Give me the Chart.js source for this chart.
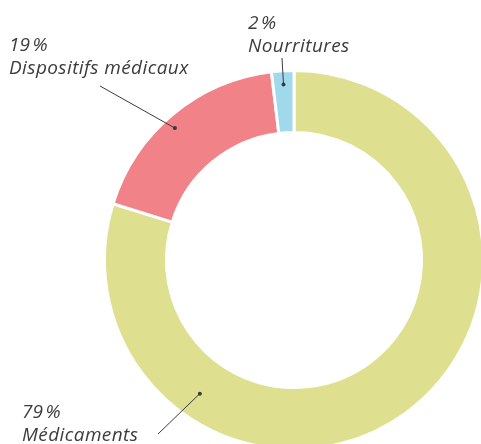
<!DOCTYPE html>
<html>
<head>
<meta charset="utf-8">
<script src="https://cdn.jsdelivr.net/npm/chart.js@4"></script>
<style>
  html, body { margin: 0; padding: 0; background: #ffffff; overflow: hidden; width: 481px; height: 444px; }
  #wrap { position: absolute; left: 0; top: 0; width: 490px; height: 460px; }
</style>
</head>
<body>
<div id="wrap"><canvas id="c" width="490" height="460"></canvas></div>
<script>
const categories = ['Médicaments', 'Dispositifs médicaux', 'Nourritures'];
const values = [79.8, 18.3, 1.9];
const percentLabels = ['79\u202f%', '19\u202f%', '2\u202f%'];

const sliceColors = ['#dee090', '#f08288', '#a0d8ec'];

// label layout: text position, leader start, leader end (fraction along arc angle / ring thickness)
const labelLayout = [
  { tx: 22, ty: 418, sx: 158, sy: 434, angFrac: 0.749, radFrac: 0.58 },
  { tx: 9,  ty: 51,  sx: 100, sy: 86,  angFrac: 0.465, radFrac: 0.81 },
  { tx: 248, ty: 29, sx: 282, sy: 58,  angFrac: 0.5,   radFrac: 0.78 }
];

const labelPlugin = {
  id: 'calloutLabels',
  afterDraw(chart) {
    const ctx = chart.ctx;
    const meta = chart.getDatasetMeta(0);
    ctx.save();
    meta.data.forEach((arc, i) => {
      const L = labelLayout[i];
      const p = arc.getProps(['x', 'y', 'startAngle', 'endAngle', 'innerRadius', 'outerRadius'], true);
      const a = p.startAngle + (p.endAngle - p.startAngle) * L.angFrac;
      const r = p.innerRadius + (p.outerRadius - p.innerRadius) * L.radFrac;
      const ex = p.x + Math.cos(a) * r;
      const ey = p.y + Math.sin(a) * r;
      ctx.strokeStyle = '#3a3a3a';
      ctx.lineWidth = 1;
      ctx.beginPath();
      ctx.moveTo(L.sx, L.sy);
      ctx.lineTo(ex, ey);
      ctx.stroke();
      ctx.fillStyle = '#3a3a3a';
      ctx.beginPath();
      ctx.arc(ex, ey, 2, 0, Math.PI * 2);
      ctx.fill();
      ctx.font = 'italic 19px "Open Sans"';
      ctx.letterSpacing = '0.4px';
      ctx.textAlign = 'left';
      ctx.textBaseline = 'alphabetic';
      ctx.fillStyle = '#3c3c3c';
      ctx.fillText(percentLabels[i], L.tx, L.ty);
      ctx.fillText(categories[i], L.tx, L.ty + 23);
    });
    ctx.restore();
  }
};

new Chart(document.getElementById('c'), {
  type: 'doughnut',
  data: {
    labels: categories,
    datasets: [{
      data: values,
      backgroundColor: sliceColors,
      borderColor: '#ffffff',
      borderWidth: 3,
      hoverOffset: 0
    }]
  },
  options: {
    responsive: false,
    animation: false,
    cutout: '67.3%',
    layout: { padding: { left: 103, right: 5, top: 69, bottom: 9 } },
    plugins: { legend: { display: false }, tooltip: { enabled: false } }
  },
  plugins: [labelPlugin]
});
</script>
</body>
</html>
